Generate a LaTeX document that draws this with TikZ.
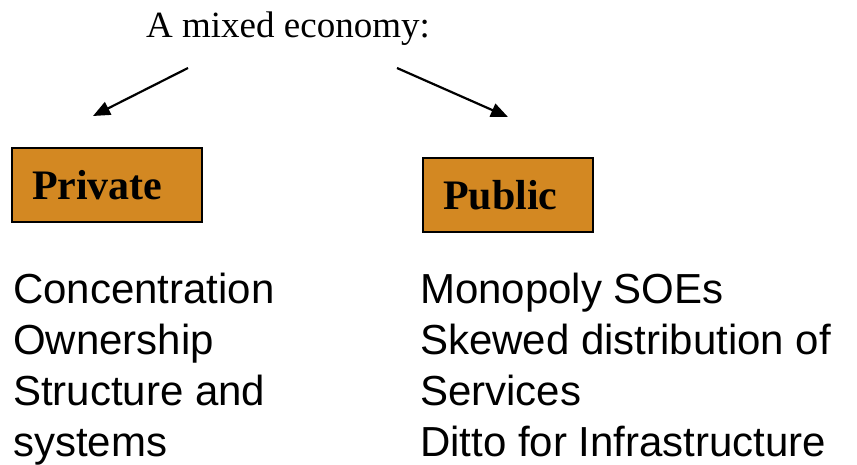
\documentclass[tikz,border=0pt]{standalone}
\usepackage{fontspec}
\setmainfont{Liberation Serif}
\setsansfont{Liberation Sans}
\usepackage{tikz}
\usetikzlibrary{positioning, arrows.meta}
\definecolor{sector}{RGB}{211, 136, 34}

\begin{document}
\begin{tikzpicture}[x=1pt, y=-1pt,
  sectorbox/.style={draw=black, line width=2.4pt, fill=sector, minimum height=74pt,
    inner xsep=20pt, align=left, font=\fontsize{42}{50}\selectfont\bfseries},
  itemlist/.style={anchor=base west, align=left, inner sep=0pt,
    font=\sffamily\fontsize{42}{51}\selectfont},
  link/.style={line width=2.2pt, -{Triangle[length=17pt, width=14pt]}}]
  \useasboundingbox (0,0) rectangle (857,465);
  % heading
  \node[anchor=base, inner sep=0pt, font=\fontsize{37}{44}\selectfont] (mixed) at (288,38) {A mixed economy:};
  % the two sectors
  \node[sectorbox, text width=150pt] (private) at (107,185) {Private};
  \node[sectorbox, text width=130pt] (public) at (508,195) {Public};
  \coordinate (privfrom) at (188,68);
  \coordinate (privto) at (93,116);
  \coordinate (pubfrom) at (397,68);
  \coordinate (pubto) at (508,117);
  \draw[link] (privfrom) -- (privto);
  \draw[link] (pubfrom) -- (pubto);
  % issues under each sector (base = last line)
  \node[itemlist] (privlist) at (13,456) {Concentration\\Ownership\\Structure and\\systems};
  \node[itemlist] (publist) at (420,456) {Monopoly SOEs\\Skewed distribution of\\Services\\Ditto for Infrastructure};
\end{tikzpicture}
\end{document}
